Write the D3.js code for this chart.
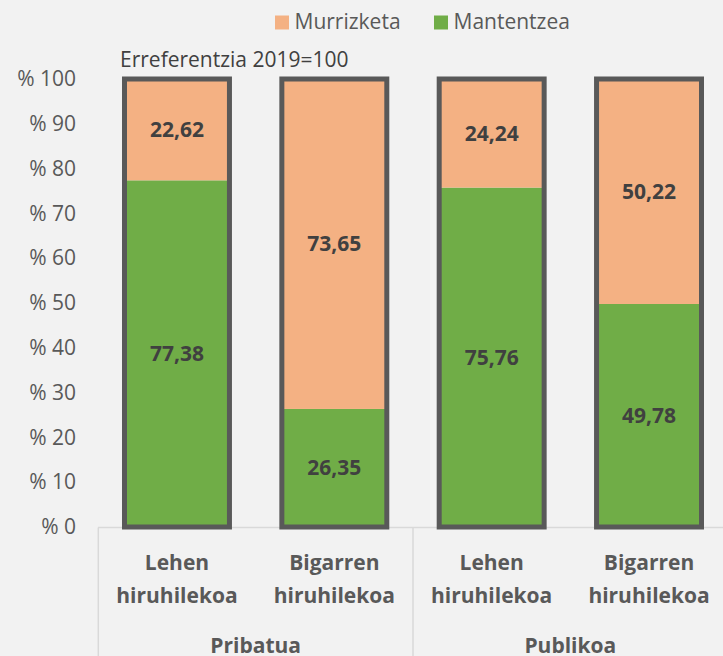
<!DOCTYPE html>
<html>
<head>
<meta charset="utf-8">
<script src="https://cdn.jsdelivr.net/npm/d3@7"></script>
<style>
  body { margin: 0; background: #f2f2f2; }
  svg { display: block; font-family: "Open Sans", sans-serif; }
</style>
</head>
<body>
<div id="chart"></div>
<script>
// data
var groups = ["Pribatua", "Publikoa"];
var periods = [["Lehen", "hiruhilekoa"], ["Bigarren", "hiruhilekoa"]];
var mantentzea = [77.38, 26.35, 75.76, 49.78];
var murrizketa = [22.62, 73.65, 24.24, 50.22];
var yTicks = [0, 10, 20, 30, 40, 50, 60, 70, 80, 90, 100];
var seriesNames = ["Murrizketa", "Mantentzea"];
var colors = {Mantentzea: "#70ad47", Murrizketa: "#f4b183"};

var width = 723, height = 656;

var svg = d3.select("#chart").append("svg")
    .attr("width", width)
    .attr("height", height);

// table for the stack: one row per bar
var rows = mantentzea.map(function(v, i) {
  return {i: i, Mantentzea: v, Murrizketa: murrizketa[i]};
});

var x = d3.scaleBand()
    .domain(rows.map(function(d) { return d.i; }))
    .range([98.3, 727.7])
    .paddingInner(0.333)
    .paddingOuter(0.1665);

var y = d3.scaleLinear()
    .domain([0, 100])
    .range([527, 79]);

// y axis labels
var yAxis = d3.axisLeft(y)
    .tickValues(yTicks)
    .tickSize(0)
    .tickPadding(22)
    .tickFormat(function(d) { return "% " + d; });

var gy = svg.append("g")
    .attr("transform", "translate(98,0)")
    .call(yAxis);
gy.select(".domain").remove();
gy.selectAll("text")
    .style("font-size", "21px")
    .style("fill", "#595959")
    .style("font-family", "Open Sans, sans-serif");

// category axis lines
svg.append("line")
    .attr("x1", 98).attr("x2", width)
    .attr("y1", 527.5).attr("y2", 527.5)
    .style("stroke", "#d9d9d9").style("stroke-width", 1.5);

[98.3, (x(1) + x(2) + x.bandwidth()) / 2].forEach(function(px) {
  svg.append("line")
      .attr("x1", px).attr("x2", px)
      .attr("y1", 527.5).attr("y2", height)
      .style("stroke", "#d9d9d9").style("stroke-width", 1.5);
});

// stacked segments
var stack = d3.stack().keys(["Mantentzea", "Murrizketa"]);
var stacked = stack(rows);

svg.append("g")
  .selectAll("g")
  .data(stacked)
  .enter().append("g")
    .style("fill", function(d) { return colors[d.key]; })
  .selectAll("rect")
  .data(function(d) { return d; })
  .enter().append("rect")
    .attr("x", function(d) { return x(d.data.i); })
    .attr("width", x.bandwidth())
    .attr("y", function(d) { return y(d[1]); })
    .attr("height", function(d) { return y(d[0]) - y(d[1]); });

// outline round each whole bar
svg.append("g")
  .selectAll("rect")
  .data(rows)
  .enter().append("rect")
    .attr("x", function(d) { return x(d.i); })
    .attr("width", x.bandwidth())
    .attr("y", function(d) { return y(d.Mantentzea + d.Murrizketa); })
    .attr("height", function(d) { return y(0) - y(d.Mantentzea + d.Murrizketa); })
    .style("fill", "none")
    .style("stroke", "#595959")
    .style("stroke-width", 5);

// value labels
svg.append("g")
  .selectAll("g")
  .data(stacked)
  .enter().append("g")
  .selectAll("text")
  .data(function(d) { return d; })
  .enter().append("text")
    .attr("x", function(d) { return x(d.data.i) + x.bandwidth() / 2; })
    .attr("y", function(d) { return (y(d[0]) + y(d[1])) / 2; })
    .attr("dy", "0.35em")
    .style("text-anchor", "middle")
    .style("font-size", "21px")
    .style("font-weight", "bold")
    .style("fill", "#404040")
    .text(function(d) { return (d[1] - d[0]).toFixed(2).replace(".", ","); });

// category labels
rows.forEach(function(d) {
  var lines = periods[d.i % 2];
  var t = svg.append("text")
      .attr("x", x(d.i) + x.bandwidth() / 2)
      .attr("y", 570)
      .style("text-anchor", "middle")
      .style("font-size", "21px")
      .style("font-weight", "bold")
      .style("fill", "#595959");
  lines.forEach(function(l, k) {
    t.append("tspan")
        .attr("x", x(d.i) + x.bandwidth() / 2)
        .attr("dy", k === 0 ? 0 : 33)
        .text(l);
  });
});

// group labels
groups.forEach(function(g, k) {
  var cx = (x(2 * k) + x(2 * k + 1) + x.bandwidth()) / 2;
  svg.append("text")
      .attr("x", cx)
      .attr("y", 653)
      .style("text-anchor", "middle")
      .style("font-size", "21px")
      .style("font-weight", "bold")
      .style("fill", "#595959")
      .text(g);
});

// subtitle
svg.append("text")
    .attr("x", 120)
    .attr("y", 67)
    .style("font-size", "21px")
    .style("fill", "#404040")
    .text("Erreferentzia 2019=100");

// legend
var legendX = [275, 434];
var legend = svg.append("g")
  .selectAll("g")
  .data(seriesNames)
  .enter().append("g")
    .attr("transform", function(d, i) { return "translate(" + legendX[i] + ",0)"; });

legend.append("rect")
    .attr("x", 0).attr("y", 15.5)
    .attr("width", 14).attr("height", 14)
    .style("fill", function(d) { return colors[d]; });

legend.append("text")
    .attr("x", 19.5)
    .attr("y", 29)
    .style("font-size", "21px")
    .style("fill", "#595959")
    .text(function(d) { return d; });
</script>
</body>
</html>
